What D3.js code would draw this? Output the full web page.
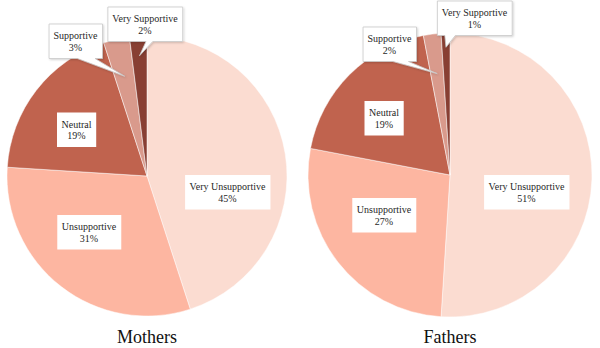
<!DOCTYPE html>
<html>
<head>
<meta charset="utf-8">
<script src="https://cdn.jsdelivr.net/npm/d3@7/dist/d3.min.js"></script>
<style>
  body { margin: 0; background: #fff; }
  svg { display: block; font-family: "Liberation Serif", "DejaVu Serif", serif; }
</style>
</head>
<body>
<svg width="600" height="348"></svg>
<script>
    // categories + values (percent)
    const categories = ["Very Unsupportive", "Unsupportive", "Neutral", "Supportive", "Very Supportive"];
    const mothers = [45, 31, 19, 3, 2];
    const fathers = [51, 27, 19, 2, 1];
    const groups = ["Mothers", "Fathers"];

    const colors = ["#fbdcd1", "#fdb6a1", "#c0634e", "#d99a8c", "#883f33"];

    const svg = d3.select("svg");

    // layout for each pie: centre, radius, label box centres (relative to centre)
    const pies = [
      { values: mothers, cx: 147, cy: 176, r: 140,
        labels: [[80.5, 16], [-58, 56], [-70.5, -46.5], [-71.5, -135], [-2, -152]],
        callout: [null, null, null, { tipR: 0.73, w: [0.53, 0.86] }, { tipR: 0.86, w: [0.51, 0.6] }] },
      { values: fathers, cx: 450, cy: 175, r: 142,
        labels: [[76.5, 17], [-66, 40], [-66, -57], [-60.5, -131], [24.5, -157]],
        callout: [null, null, null, { tipR: 0.72, w: [0.56, 0.85] }, { tipR: 0.9, w: [0.1, 0.24] }] }
    ];

    const color = d3.scaleOrdinal().domain(categories).range(colors);

    const pie = d3.pie().sort(null).value(d => d.value);

    const defs = svg.append("defs");
    defs.append("filter").attr("id", "shadow")
      .attr("x", "-20%").attr("y", "-20%").attr("width", "140%").attr("height", "140%")
      .append("feDropShadow")
      .attr("dx", 1).attr("dy", 1).attr("stdDeviation", 0.8)
      .attr("flood-color", "#000").attr("flood-opacity", 0.18);

    pies.forEach((p, gi) => {
      const data = categories.map((c, i) => ({ cat: c, value: p.values[i] }));
      const arcs = pie(data);
      const arc = d3.arc().innerRadius(0).outerRadius(p.r);

      const g = svg.append("g").attr("transform", `translate(${p.cx},${p.cy})`);

      g.selectAll("path.slice")
        .data(arcs)
        .enter()
        .append("path")
        .attr("class", "slice")
        .attr("d", arc)
        .attr("fill", d => color(d.data.cat))
        .attr("stroke", "#fff")
        .attr("stroke-width", 0.7)
        .attr("stroke-opacity", 0.7);

      // labels
      arcs.forEach((d, i) => {
        const [lx, ly] = p.labels[i];
        const lg = g.append("g");
        const txt = lg.append("text")
          .attr("text-anchor", "middle")
          .attr("font-size", "10px")
          .attr("fill", "#1f1f1f");
        txt.append("tspan").attr("x", lx).attr("y", ly - 2).text(d.data.cat);
        txt.append("tspan").attr("x", lx).attr("y", ly + 9.5).text(d.data.value + "%");

        const bb = txt.node().getBBox();
        const padX = 4.5, padY = 6;
        const x0 = bb.x - padX, x1 = bb.x + bb.width + padX;
        const y0 = bb.y - padY, y1 = bb.y + bb.height + padY;

        const co = p.callout[i];
        let path;
        if (co) {
          const a = (d.startAngle + d.endAngle) / 2;
          const tr = p.r * co.tipR;
          const tx = Math.sin(a) * tr, ty = -Math.cos(a) * tr;
          const wl = x0 + (x1 - x0) * co.w[0], wr = x0 + (x1 - x0) * co.w[1];
          path = `M${x0},${y0}H${x1}V${y1}H${wr}L${tx},${ty}L${wl},${y1}H${x0}Z`;
        } else {
          path = `M${x0},${y0}H${x1}V${y1}H${x0}Z`;
        }
        lg.insert("path", "text")
          .attr("d", path)
          .attr("fill", "#fff")
          .attr("stroke", co ? "#c8c8c8" : "none")
          .attr("stroke-width", 0.8)
          .attr("filter", co ? "url(#shadow)" : null);
      });

      svg.append("text")
        .attr("x", p.cx)
        .attr("y", 343)
        .attr("text-anchor", "middle")
        .attr("font-size", "18px")
        .attr("fill", "#111")
        .text(groups[gi]);
    });
</script>
</body>
</html>
